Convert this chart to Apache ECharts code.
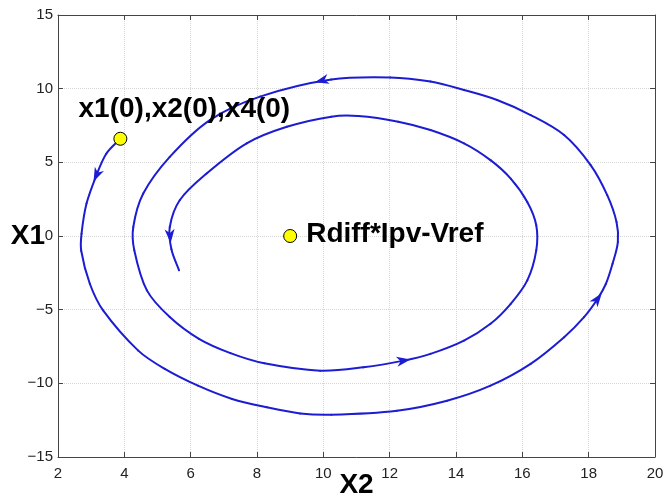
<!DOCTYPE html>
<html>
<head>
<meta charset="utf-8">
<script src="https://cdn.jsdelivr.net/npm/echarts@6/dist/echarts.min.js"></script>
<style>
html,body{margin:0;padding:0;background:#fff;}
#chart{width:669px;height:502px;}
</style>
</head>
<body>
<div id="chart"></div>
<script>
// Trajectory (x = X2, y = X1), in drawing order
var trajX2 = [3.88, 3.46, 3.16, 2.86, 2.71, 2.70, 2.96, 3.36, 4.42, 5.22, 6.22, 7.25, 8.30, 9.30, 10.24, 12.22, 13.73, 15.04, 16.25, 17.26, 17.86, 18.27, 18.52, 18.72, 18.88, 18.84, 18.56, 18.06, 17.26, 16.25, 15.24, 14.24, 13.23, 12.02, 10.24, 8.09, 6.58, 5.37, 4.57, 4.27, 4.30, 4.68, 5.37, 6.25, 7.20, 8.22, 9.90, 11.21, 12.42, 13.23, 14.24, 15.04, 15.65, 16.15, 16.42, 16.42, 16.15, 15.65, 15.04, 14.24, 13.23, 12.26, 11.05, 10.24, 8.90, 7.69, 6.48, 5.67, 5.37, 5.42, 5.65];
var trajX1 = [6.60, 5.60, 4.13, 2.20, 0.16, -1.00, -3.24, -5.05, -7.78, -9.02, -10.16, -11.06, -11.63, -12.04, -12.13, -11.86, -11.18, -10.16, -8.68, -6.87, -5.51, -4.26, -3.24, -1.88, -0.41, 0.95, 2.77, 4.81, 6.85, 8.21, 9.23, 9.91, 10.48, 10.76, 10.62, 9.46, 7.87, 5.37, 2.88, 0.61, -0.97, -3.69, -5.50, -6.98, -7.95, -8.64, -9.14, -8.91, -8.46, -8.00, -7.10, -5.96, -4.60, -3.01, -0.97, 0.73, 2.31, 3.90, 5.15, 6.29, 7.19, 7.76, 8.14, 8.10, 7.41, 6.29, 4.24, 2.43, 0.61, -0.90, -2.33];

// Direction arrows placed on the trajectory
var arrowX2 = [3.16, 9.95, 5.38, 12.42, 18.27];
var arrowX1 = [4.13, 10.55, 0.00, -8.46, -4.26];

// Marked points
var pointNames = ['x1(0),x2(0),x4(0)', 'Rdiff*Ipv-Vref'];
var pointX2 = [3.88, 9.0];
var pointX1 = [6.60, 0.0];

// Axis ranges / ticks
var xMin = 2, xMax = 20, xStep = 2;
var yMin = -15, yMax = 15, yStep = 5;

var FONT = "'Liberation Sans', Arial, Helvetica, sans-serif";
var BLUE = '#1c1cd2';
var AXIS = '#444444';

function fmt(v) { return v < 0 ? '\u2212' + Math.abs(v) : String(v); }

var traj = trajX2.map(function (x, i) { return [x, trajX1[i]]; });

var chart = echarts.init(document.getElementById('chart'), null, { renderer: 'canvas' });

function baseAxis(extra) {
  var a = {
    type: 'value',
    axisLine: { show: true, onZero: false, lineStyle: { color: AXIS, width: 1 } },
    axisTick: { show: true, inside: true, length: 5, lineStyle: { color: AXIS } },
    axisLabel: { show: true, color: '#222', fontFamily: FONT, fontSize: 15, formatter: fmt },
    splitLine: { show: false }
  };
  for (var k in extra) a[k] = extra[k];
  return a;
}

// Each item draws the smooth piece from point i to point i+1,
// with all positions mapped through the chart's own coordinate system.
function renderSegment(params, api) {
  var i = params.dataIndex, n = traj.length;
  if (i >= n - 1) return null;
  var p0 = api.coord(traj[Math.max(0, i - 1)]);
  var p1 = api.coord(traj[i]);
  var p2 = api.coord(traj[i + 1]);
  var p3 = api.coord(traj[Math.min(n - 1, i + 2)]);
  function dist(a, b) { return Math.sqrt((a[0] - b[0]) * (a[0] - b[0]) + (a[1] - b[1]) * (a[1] - b[1])); }
  var d01 = dist(p0, p1), d12 = dist(p1, p2), d23 = dist(p2, p3);
  var k1 = (d01 + d12) > 0 ? d12 / (d01 + d12) / 3 : 0;
  var k2 = (d12 + d23) > 0 ? d12 / (d12 + d23) / 3 : 0;
  return {
    type: 'bezierCurve',
    shape: {
      x1: p1[0], y1: p1[1], x2: p2[0], y2: p2[1],
      cpx1: p1[0] + (p2[0] - p0[0]) * k1, cpy1: p1[1] + (p2[1] - p0[1]) * k1,
      cpx2: p2[0] - (p3[0] - p1[0]) * k2, cpy2: p2[1] - (p3[1] - p1[1]) * k2
    },
    style: { fill: null, stroke: BLUE, lineWidth: 2, lineCap: 'round' },
    silent: true
  };
}

var option = {
  animation: false,
  backgroundColor: '#fff',
  grid: { left: 58, right: 14, top: 15, bottom: 45, containLabel: false, outerBoundsMode: 'none' },
  xAxis: [
    baseAxis({
      min: xMin, max: xMax, interval: xStep, position: 'bottom',
      name: 'X2', nameLocation: 'middle', nameGap: 14, nameMoveOverlap: false,
      nameTextStyle: { fontFamily: FONT, fontSize: 28, fontWeight: 'bold', color: '#000', verticalAlign: 'top' },
      axisLabel: { show: true, color: '#222', fontFamily: FONT, fontSize: 15, formatter: fmt, margin: 9 },
      splitLine: { show: true, lineStyle: { color: '#d6d6d6', type: 'dotted', width: 1 } }
    }),
    baseAxis({
      min: xMin, max: xMax, interval: xStep, position: 'top',
      axisLabel: { show: false }
    })
  ],
  yAxis: [
    baseAxis({
      min: yMin, max: yMax, interval: yStep, position: 'left',
      name: 'X1', nameLocation: 'middle', nameGap: 13, nameRotate: 0, nameMoveOverlap: false,
      nameTextStyle: { fontFamily: FONT, fontSize: 28, fontWeight: 'bold', color: '#000' },
      axisLabel: { show: true, color: '#222', fontFamily: FONT, fontSize: 15, formatter: fmt, margin: 5 },
      splitLine: { show: true, lineStyle: { color: '#d6d6d6', type: 'dotted', width: 1 } }
    }),
    baseAxis({
      min: yMin, max: yMax, interval: yStep, position: 'right',
      axisLabel: { show: false }
    })
  ],
  series: [
    {
      type: 'custom',
      name: 'trajectory',
      data: traj,
      encode: { x: 0, y: 1 },
      renderItem: renderSegment,
      z: 2
    },
    {
      type: 'scatter',
      name: 'arrows',
      data: [],
      z: 3
    },
    {
      type: 'scatter',
      name: 'points',
      symbol: 'circle',
      symbolSize: 13,
      itemStyle: { color: '#ffff00', borderColor: '#000', borderWidth: 1, opacity: 1 },
      data: [
        {
          value: [pointX2[0], pointX1[0]], name: pointNames[0],
          label: { show: true, position: 'top', distance: 0, offset: [64, -8],
            formatter: '{b}', fontFamily: FONT, fontSize: 28, fontWeight: 'bold', color: '#000' }
        },
        {
          value: [pointX2[1], pointX1[1]], name: pointNames[1],
          label: { show: true, position: 'right', distance: 9, offset: [0, -2],
            formatter: '{b}', fontFamily: FONT, fontSize: 28, fontWeight: 'bold', color: '#000' }
        }
      ],
      z: 4
    }
  ]
};

chart.setOption(option);

// Orient each arrow along the nearest trajectory segment (in pixel space)
var pix = traj.map(function (p) { return chart.convertToPixel({ gridIndex: 0 }, p); });
var arrowData = arrowX2.map(function (x, i) {
  var p = chart.convertToPixel({ gridIndex: 0 }, [x, arrowX1[i]]);
  var best = 0, bestD = Infinity;
  for (var j = 0; j < pix.length - 1; j++) {
    var ax = pix[j][0], ay = pix[j][1], bx = pix[j + 1][0], by = pix[j + 1][1];
    var vx = bx - ax, vy = by - ay;
    var t = ((p[0] - ax) * vx + (p[1] - ay) * vy) / (vx * vx + vy * vy);
    t = Math.max(0, Math.min(1, t));
    var cx = ax + t * vx - p[0], cy = ay + t * vy - p[1];
    var d = cx * cx + cy * cy;
    if (d < bestD) { bestD = d; best = j; }
  }
  var dx = pix[best + 1][0] - pix[best][0];
  var dy = pix[best + 1][1] - pix[best][1];
  var ang = Math.atan2(-dy, dx) * 180 / Math.PI - 90;
  return { value: [x, arrowX1[i]], symbolRotate: ang };
});

chart.setOption({
  series: [
    {},
    {
      type: 'scatter',
      name: 'arrows',
      symbol: 'path://M0,0 L5,14 L0,10 L-5,14 Z',
      symbolSize: [10, 14],
      itemStyle: { color: BLUE, opacity: 1 },
      data: arrowData,
      z: 3
    },
    {}
  ]
});
</script>
</body>
</html>
